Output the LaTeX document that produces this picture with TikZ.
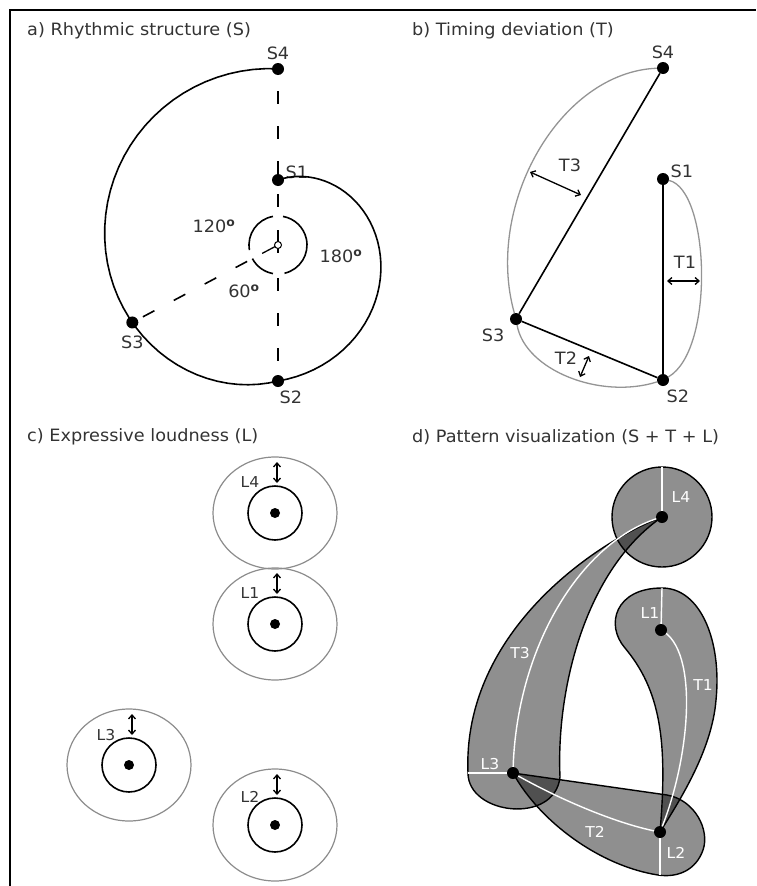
\documentclass[tikz,border=0pt]{standalone}
\usepackage{fontspec}
\setmainfont{DejaVu Sans}[FakeStretch=1.04]
\usetikzlibrary{arrows.meta,positioning,calc}

\newcommand{\angdeg}{\textsuperscript{\bfseries o}}

\begin{document}
\begin{tikzpicture}[
    x=1pt, y=1pt,
    >={Straight Barb[length=4pt,width=7pt]},
    lbl/.style={font=\fontsize{17}{20}\selectfont, text=black!80, inner sep=1pt},
    small/.style={font=\fontsize{15}{18}\selectfont, text=black!80, inner sep=1pt},
    tag/.style={font=\fontsize{15}{18}\selectfont, text=white, inner sep=1pt},
    dot/.style={circle, fill=black, inner sep=0pt, minimum size=12pt},
    chord/.style={line width=1.6pt},
    guide/.style={line width=1.6pt, dash pattern=on 13pt off 22pt},
    arcline/.style={draw=black!42, line width=1.3pt},
    ring/.style={draw=black!45, line width=1.2pt},
    dbl/.style={<->, line width=1.3pt},
    blob/.style={draw=black, line width=1.4pt, fill=black, fill opacity=0.44},
    trace/.style={white, line width=1.4pt}
]

\useasboundingbox (0,0) rectangle (756,-886);
\draw[line width=1.5pt] (10,-886) -- (10,-10) -- (756,-10);

% a) rhythmic structure
\node[lbl, anchor=west] (ta) at (26,-31) {a) Rhythmic structure (S)};
\coordinate (ctr) at (278,-245);
\node[dot] (a1) at (278,-180) {};
\node[dot] (a2) at (278,-381) {};
\node[dot] (a3) at ($(ctr)+(-152:165)$) {};
\node[dot] (a4) at (278,-69) {};
\node[lbl, above=2pt of a4] {S4};
\node[lbl, above right=-4pt and 2pt of a1] {S1};
\node[lbl, below=6pt of a3] {S3};
\node[lbl, below right=4pt and -4pt of a2] {S2};

% spiral S1 -> S2 -> S3 -> S4
\begin{scope}[shift={(ctr)}]
\draw[chord] plot[domain=0:180, samples=46, variable=\t] ({90-\t}:{65+71*\t/180})
    -- plot[domain=180:360, samples=46, variable=\t] ({90-\t}:{136+(\t-180)*(0.597-0.00208*(\t-180))});
\end{scope}

\coordinate (ctop) at (278,-216);
\coordinate (cbot) at (278,-274);
\path (ctr) ++(-152:29) coordinate (cdiag);
\draw[guide, dash phase=-16pt] (a4) -- (a1);
\draw[guide, dash phase=-8pt] (a1) -- (ctop);
\draw[guide, dash phase=-4pt] (cbot) -- (a2);
\draw[guide, dash phase=-6pt] (cdiag) -- (a3);
\draw[chord] (ctr) ++(100:29) arc[start angle=100, end angle=190, radius=29];
\draw[chord] (ctr) ++(208:29) arc[start angle=208, end angle=260, radius=29];
\draw[chord] (ctr) ++(283:29) arc[start angle=283, end angle=440, radius=29];
\draw[chord, line width=1.3pt] (278,-230) -- (278,-253);
\draw[chord, line width=1.3pt] (ctr) -- ++(-152:18);
\node[circle, draw, fill=white, line width=1pt, inner sep=0pt, minimum size=7pt] (hub) at (ctr) {};
\node[lbl] at (214,-226) {120\angdeg};
\node[lbl] at (341,-256) {180\angdeg};
\node[lbl] at (244,-291) {60\angdeg};

% b) timing deviation
\node[lbl, anchor=west] (tb) at (411,-31) {b) Timing deviation (T)};
\node[dot] (b1) at (663,-179) {};
\node[dot] (b2) at (663,-380) {};
\node[dot] (b3) at (516,-319) {};
\node[dot] (b4) at (663,-68) {};
\node[lbl, above=2pt of b4] {S4};
\node[lbl, above right=-4pt and 2pt of b1] {S1};
\node[lbl, below left=4pt and 6pt of b3] {S3};
\node[lbl, below right=4pt and -2pt of b2] {S2};

\draw[arcline] (b4) .. controls (560,-72) and (484,-205) .. (b3);
\draw[arcline] (b3) .. controls (525,-370) and (600,-400) .. (b2);
\draw[arcline] (b1) .. controls (710,-190) and (715,-350) .. (b2);
\draw[chord] (b4) -- (b3) -- (b2) -- (b1);

\coordinate (t3a) at (530,-172);
\coordinate (t3b) at (581,-195);
\coordinate (t1a) at (667,-281);
\coordinate (t1b) at (700,-281);
\coordinate (t2a) at (589,-356);
\coordinate (t2b) at (580,-377);
\draw[dbl] (t3a) -- (t3b);
\draw[dbl] (t1a) -- (t1b);
\draw[dbl] (t2a) -- (t2b);
\node[lbl] at (570,-165) {T3};
\node[lbl] at (685,-262) {T1};
\node[lbl] at (566,-358) {T2};

% c) expressive loudness
\node[lbl, anchor=west] (tc) at (26,-437) {c) Expressive loudness (L)};
\node[dot, minimum size=10pt] (c4) at (275,-513) {};
\node[dot, minimum size=10pt] (c1) at (275,-624) {};
\node[dot, minimum size=10pt] (c3) at (129,-765) {};
\node[dot, minimum size=10pt] (c2) at (275,-825) {};
\draw[ring] (c4.center) ellipse[x radius=62, y radius=56];
\draw[ring] (c1.center) ellipse[x radius=62, y radius=56];
\draw[ring] (c3.center) ellipse[x radius=62, y radius=56];
\draw[ring] (c2.center) ellipse[x radius=62, y radius=56];
\draw[chord] (c4.center) circle[radius=27];
\draw[chord] (c1.center) circle[radius=27];
\draw[chord] (c3.center) circle[radius=27];
\draw[chord] (c2.center) circle[radius=27];
\path (c4.center) ++(2,51) coordinate (c4o) ++(0,-21) coordinate (c4i);
\path (c1.center) ++(2,51) coordinate (c1o) ++(0,-21) coordinate (c1i);
\path (c3.center) ++(3,51) coordinate (c3o) ++(0,-21) coordinate (c3i);
\path (c2.center) ++(2,51) coordinate (c2o) ++(0,-21) coordinate (c2i);
\draw[dbl] (c4o) -- (c4i);
\draw[dbl] (c1o) -- (c1i);
\draw[dbl] (c3o) -- (c3i);
\draw[dbl] (c2o) -- (c2i);
\node[small] at (250,-482) {L4};
\node[small] at (250,-593) {L1};
\node[small] at (106,-735) {L3};
\node[small] at (250,-797) {L2};

% d) pattern visualization
\node[lbl, anchor=west] (td) at (411,-437) {d) Pattern visualization (S + T + L)};
\coordinate (d4) at (662,-517);
\coordinate (d1) at (661,-630);
\coordinate (d3) at (513,-773);
\coordinate (d2) at (660,-832);

\draw[blob] (d4) circle[radius=50];
\draw[blob] (d4) .. controls (600,-540) and (462,-630) .. (468,-773)
    .. controls (468,-815) and (555,-825) .. (560,-777)
    .. controls (556,-690) and (585,-570) .. (d4) -- cycle;
\draw[blob] (d2) .. controls (668,-740) and (660,-690) .. (625,-648)
    .. controls (605,-625) and (615,-588) .. (662,-588)
    .. controls (700,-588) and (722,-640) .. (716,-700)
    .. controls (712,-750) and (680,-800) .. (d2) -- cycle;
\draw[blob] (d3) -- (667,-795) .. controls (695,-800) and (710,-830) .. (703,-850)
    .. controls (696,-870) and (678,-878) .. (658,-875)
    .. controls (600,-866) and (540,-822) .. (d3) -- cycle;

\draw[trace] (d4) -- (662,-467);
\draw[trace] (d1) -- (662,-588);
\draw[trace] (d2) -- (660,-875);
\draw[trace] (d3) -- (468,-773);
\draw[trace] (d3) .. controls (515,-650) and (580,-540) .. (d4);
\draw[trace] (d1) .. controls (700,-650) and (690,-760) .. (d2);
\draw[trace] (d3) .. controls (560,-800) and (620,-825) .. (d2);

\node[dot] (n4) at (d4) {};
\node[dot] (n1) at (d1) {};
\node[dot] (n3) at (d3) {};
\node[dot] (n2) at (d2) {};
\node[tag] at (681,-497) {L4};
\node[tag] at (650,-613) {L1};
\node[tag] at (520,-653) {T3};
\node[tag] at (703,-685) {T1};
\node[tag] at (490,-764) {L3};
\node[tag] at (595,-832) {T2};
\node[tag] at (676,-853) {L2};

\end{tikzpicture}
\end{document}
